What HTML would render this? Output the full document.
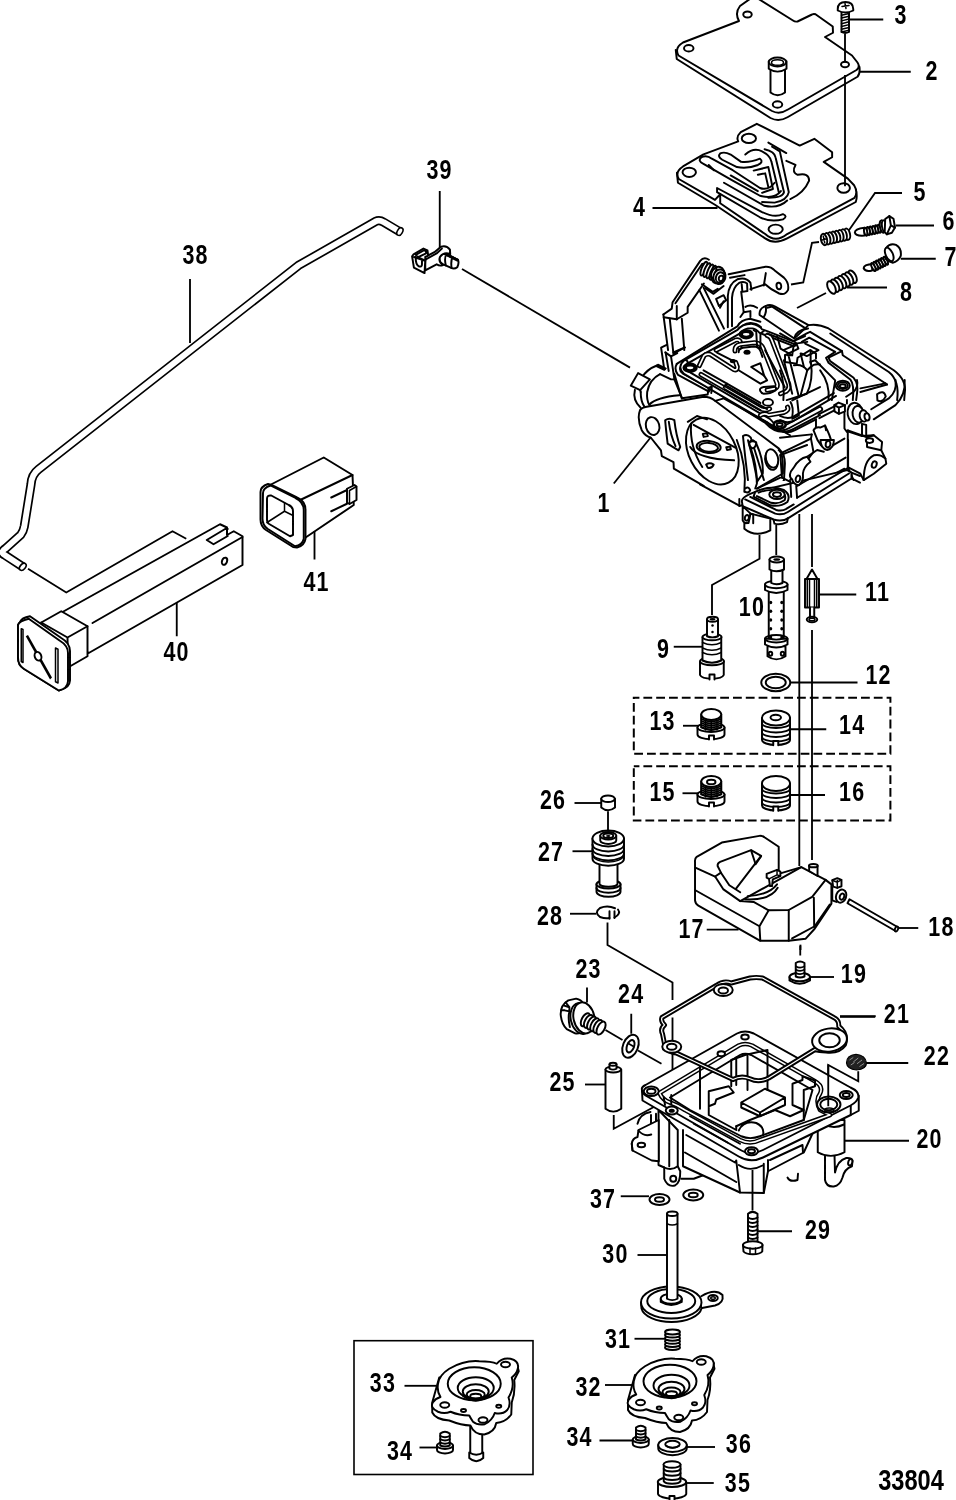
<!DOCTYPE html>
<html><head><meta charset="utf-8"><title>33804</title>
<style>
html,body{margin:0;padding:0;background:#fff;}
body{width:956px;height:1500px;overflow:hidden;font-family:"Liberation Sans",sans-serif;}
svg{display:block}
.o{fill:none;stroke:#000;stroke-width:1.95;stroke-linejoin:round;stroke-linecap:round;vector-effect:non-scaling-stroke}
.w{fill:#fff;stroke:#000;stroke-width:1.95;stroke-linejoin:round;stroke-linecap:round;vector-effect:non-scaling-stroke}
.t{fill:none;stroke:#000;stroke-width:1.5;stroke-linejoin:round;stroke-linecap:round;vector-effect:non-scaling-stroke}
.tw{fill:#fff;stroke:#000;stroke-width:1.5;stroke-linejoin:round;stroke-linecap:round;vector-effect:non-scaling-stroke}
.l{fill:none;stroke:#000;stroke-width:1.85;stroke-linecap:butt;vector-effect:non-scaling-stroke}
.k{fill:#000;stroke:none}
.f{fill:#fff;stroke:none}
.d{fill:none;stroke:#000;stroke-width:2;stroke-dasharray:8.8 4;stroke-dashoffset:3.2;vector-effect:non-scaling-stroke}
text{font-family:"Liberation Sans",sans-serif;font-weight:bold;font-size:27.5px;fill:#000;text-anchor:middle}
</style></head><body>
<svg width="956" height="1500" viewBox="0 0 956 1500" style="filter:grayscale(1)">
<rect x="0" y="0" width="956" height="1500" fill="#fff"/>
<!-- 10_top.svg -->
<g transform="translate(600,0) scale(0.25)">
<path class="w" d="M303,200 L307,236 L682,472 Q715,489 750,469 L1030,307 Q1041,296 1038,268 L1030,260 L740,430 L320,215 Z"/>
<path class="w" d="M608,-10 L560,24 Q538,52 556,84 L332,170 Q296,192 314,222 L688,444 Q718,460 752,438 L1026,280 Q1042,268 1030,250 L1008,222 L900,148 L932,131 L931,106 L862,57 Q855,54 848,58 L790,86 Q780,88 772,82 L625,-10 Z"/>
<ellipse class="w" cx="590" cy="58" rx="17" ry="12"/>
<ellipse class="w" cx="355" cy="193" rx="19" ry="13"/>
<ellipse class="w" cx="710" cy="418" rx="19" ry="13"/>
<ellipse class="w" cx="980" cy="258" rx="16" ry="11"/>
<path class="w" d="M682,280 L682,370 Q710,392 740,370 L740,280"/>
<path class="w" d="M675,245 L675,275 Q710,298 746,275 L746,245"/>
<ellipse class="w" cx="710" cy="248" rx="35" ry="18"/>
<ellipse class="t" cx="710" cy="250" rx="24" ry="11"/>
</g>
<g transform="translate(670,120) scale(0.209205)">
<path class="w" d="M33,252 L38,300 L215,405 L455,566 Q500,598 560,566 L888,392 Q896,370 890,340 L560,540 L60,260 Z"/>
<path class="w" d="M415,18 L338,58 Q315,80 326,102 L160,164 L62,222 Q22,248 42,282 L215,382 L240,355 L240,398 L455,545 Q505,590 560,545 L882,372 Q900,345 880,312 L850,280 L735,200 L775,178 L775,154 L690,90 L620,122 Z"/>
<ellipse class="w" cx="377" cy="88" rx="34" ry="22"/>
<ellipse class="w" cx="92" cy="250" rx="32" ry="22"/>
<ellipse class="w" cx="505" cy="522" rx="34" ry="22"/>
<ellipse class="w" cx="830" cy="325" rx="30" ry="23"/>
<path class="o" d="M470,108 L556,158"/>
<path class="o" d="M488,128 L525,150 L568,345 Q560,385 500,395 L440,392"/>
<path class="o" d="M452,140 Q500,150 505,180 L545,345 Q540,372 470,372"/>
<path class="o" d="M360,165 Q400,130 440,150 Q480,170 485,200 L520,345"/>
<path class="o" d="M240,160 Q260,150 290,165 L340,200 Q380,205 430,185 Q450,200 420,215 Q370,235 320,225 L250,190 Q225,175 240,160 Z"/>
<path class="o" d="M400,242 L470,225 L492,330 L440,348"/>
<path class="o" d="M420,262 L455,255 L470,320"/>
<path class="o" d="M150,178 Q175,165 200,185 L300,240 L430,325 Q470,340 500,300"/>
<path class="o" d="M150,178 Q130,195 160,210 L300,290 L430,362 Q500,380 530,340"/>
<path class="o" d="M185,215 L210,240"/>
<path class="o" d="M258,300 L450,410 Q520,425 560,385"/>
<path class="o" d="M225,325 L440,440 Q500,470 540,450 Q565,460 540,475 Q480,490 430,465 L225,345 Z"/>
<path class="o" d="M556,195 L600,215 Q580,250 610,262 Q665,250 665,290 Q640,350 575,378"/>
<path class="o" d="M290,265 L420,340"/>
</g>
<polyline class="l" points="652.5,208 717.5,208"/>
<g transform="translate(717,0) scale(0.25)">
<polyline class="l" points="512,135 512,250"/>
<polyline class="l" points="512,300 512,745"/>
<path class="w" d="M498,45 L498,128 Q512,136 528,128 L528,45 Z"/>
<path class="t" d="M498.0,61.2 L528.0,54.0 M498.0,72.3 L528.0,65.1 M498.0,83.5 L528.0,76.3 M498.0,94.6 L528.0,87.4 M498.0,105.7 L528.0,98.5 M498.0,116.9 L528.0,109.7 M498.0,128.0 L528.0,120.8 "/>
<path class="w" d="M483,36 Q483,8 514,8 Q545,8 545,36 L545,42 Q514,58 483,42 Z"/>
<path class="t" d="M500,26 L528,22 M512,14 L516,34"/>
<polyline class="l" points="530,78 665,78"/>
<polyline class="l" points="572,287 775,287"/>
<polyline class="l" points="740,772 632,772 527,922"/>
<polyline class="l" points="715,902 868,902"/>
<polyline class="l" points="735,1035 875,1035"/>
<polyline class="l" points="520,1150 680,1150"/>
<polyline class="l" points="408,968 380,971 345,1130 296,1138"/>
<polyline class="l" points="436,1172 320,1232"/>
<ellipse class="w" cx="520" cy="937" rx="12" ry="23" transform="rotate(-12.8581 520 937)"/>
<ellipse class="w" cx="506.857" cy="940" rx="12" ry="23" transform="rotate(-12.8581 506.857 940)"/>
<ellipse class="w" cx="493.714" cy="943" rx="12" ry="23" transform="rotate(-12.8581 493.714 943)"/>
<ellipse class="w" cx="480.571" cy="946" rx="12" ry="23" transform="rotate(-12.8581 480.571 946)"/>
<ellipse class="w" cx="467.429" cy="949" rx="12" ry="23" transform="rotate(-12.8581 467.429 949)"/>
<ellipse class="w" cx="454.286" cy="952" rx="12" ry="23" transform="rotate(-12.8581 454.286 952)"/>
<ellipse class="w" cx="441.143" cy="955" rx="12" ry="23" transform="rotate(-12.8581 441.143 955)"/>
<ellipse class="w" cx="428" cy="958" rx="12" ry="23" transform="rotate(-12.8581 428 958)"/>
<path class="t" d="M420.981,959.602 L435.019,956.398 M424.929,944.546 L431.071,971.454"/>
<ellipse class="w" cx="542" cy="1107" rx="14" ry="27" transform="rotate(-27.1081 542 1107)"/>
<ellipse class="w" cx="528" cy="1114.17" rx="14" ry="27" transform="rotate(-27.1081 528 1114.17)"/>
<ellipse class="w" cx="514" cy="1121.33" rx="14" ry="27" transform="rotate(-27.1081 514 1121.33)"/>
<ellipse class="w" cx="500" cy="1128.5" rx="14" ry="27" transform="rotate(-27.1081 500 1128.5)"/>
<ellipse class="w" cx="486" cy="1135.67" rx="14" ry="27" transform="rotate(-27.1081 486 1135.67)"/>
<ellipse class="w" cx="472" cy="1142.83" rx="14" ry="27" transform="rotate(-27.1081 472 1142.83)"/>
<ellipse class="w" cx="458" cy="1150" rx="14" ry="27" transform="rotate(-27.1081 458 1150)"/>
</g>
<g transform="translate(836,160) scale(0.125523)">
<path class="w" d="M228,540 Q150,548 150,578 Q156,608 228,602 Z"/>
<ellipse class="w" cx="345" cy="548" rx="12" ry="33" transform="rotate(-11.9151 345 548)"/>
<ellipse class="w" cx="323.2" cy="552.6" rx="12" ry="33" transform="rotate(-11.9151 323.2 552.6)"/>
<ellipse class="w" cx="301.4" cy="557.2" rx="12" ry="33" transform="rotate(-11.9151 301.4 557.2)"/>
<ellipse class="w" cx="279.6" cy="561.8" rx="12" ry="33" transform="rotate(-11.9151 279.6 561.8)"/>
<ellipse class="w" cx="257.8" cy="566.4" rx="12" ry="33" transform="rotate(-11.9151 257.8 566.4)"/>
<ellipse class="w" cx="236" cy="571" rx="12" ry="33" transform="rotate(-11.9151 236 571)"/>
<ellipse class="w" cx="370" cy="530" rx="20" ry="50" transform="rotate(-10 370 530)"/>
<ellipse class="w" cx="386" cy="527" rx="20" ry="47" transform="rotate(-10 386 527)"/>
<path class="w" d="M392,470 L425,447 L458,468 L470,538 L445,580 L405,592 L388,575 Z"/>
<path class="o" d="M425,447 L437,520 L470,538 M437,520 L405,592"/>
<path class="w" d="M295,828 Q222,832 220,862 Q232,894 288,880 Z"/>
<ellipse class="w" cx="396" cy="803" rx="12" ry="35" transform="rotate(-27.0309 396 803)"/>
<ellipse class="w" cx="376.4" cy="813" rx="12" ry="35" transform="rotate(-27.0309 376.4 813)"/>
<ellipse class="w" cx="356.8" cy="823" rx="12" ry="35" transform="rotate(-27.0309 356.8 823)"/>
<ellipse class="w" cx="337.2" cy="833" rx="12" ry="35" transform="rotate(-27.0309 337.2 833)"/>
<ellipse class="w" cx="317.6" cy="843" rx="12" ry="35" transform="rotate(-27.0309 317.6 843)"/>
<ellipse class="w" cx="298" cy="853" rx="12" ry="35" transform="rotate(-27.0309 298 853)"/>
<path class="w" d="M400,700 Q430,660 478,676 Q524,702 516,764 Q494,812 452,818 Q420,815 398,790 Z"/>
<ellipse class="w" cx="424" cy="752" rx="28" ry="58" transform="rotate(-25 424 752)"/>
</g>
<g transform="translate(717,0) scale(0.25)">

</g>
<!-- 20_carb.svg -->
<g transform="translate(660,300) scale(0.167364)">
<path class="o" d="M100,382 L462,158 Q482,118 538,112 L600,130"/>
<path class="o" d="M790,775 Q700,812 630,735 L300,530 L292,548 L108,448 Q82,415 100,382"/>
<path class="o" d="M790,775 L956,688"/>
<path class="o" d="M125,396 L470,182 Q490,142 540,137 Q580,140 604,162"/>
<path class="o" d="M125,396 Q110,418 135,438 L640,714 Q700,782 775,750 L956,655"/>
<path class="o" d="M85,440 L130,588"/>
<path d="M152,372 L472,188 Q497,155 545,155 Q585,160 602,186 L640,200 L800,262" fill="none" stroke="#000" stroke-width="6.2" stroke-linejoin="round" stroke-linecap="round" vector-effect="non-scaling-stroke"/><path d="M152,372 L472,188 Q497,155 545,155 Q585,160 602,186 L640,200 L800,262" fill="none" stroke="#fff" stroke-width="2.4" stroke-linejoin="round" stroke-linecap="round" vector-effect="non-scaling-stroke"/>
<path d="M152,372 Q118,400 150,430 L650,722 Q705,790 770,752 L956,652" fill="none" stroke="#000" stroke-width="6.2" stroke-linejoin="round" stroke-linecap="round" vector-effect="non-scaling-stroke"/><path d="M152,372 Q118,400 150,430 L650,722 Q705,790 770,752 L956,652" fill="none" stroke="#fff" stroke-width="2.4" stroke-linejoin="round" stroke-linecap="round" vector-effect="non-scaling-stroke"/>
<ellipse class="w" cx="180" cy="405" rx="40" ry="25"/>
<ellipse class="w" cx="180" cy="405" rx="25" ry="14"/>
<ellipse class="w" cx="515" cy="205" rx="40" ry="25"/>
<ellipse class="w" cx="515" cy="205" rx="25" ry="14"/>
<ellipse cx="715" cy="745" rx="36" ry="23" fill="#fff" stroke="#000" stroke-width="2.6" vector-effect="non-scaling-stroke"/>
<ellipse class="w" cx="715" cy="745" rx="18" ry="10"/>
<ellipse cx="180" cy="405" rx="33" ry="20" fill="none" stroke="#000" stroke-width="2.2" vector-effect="non-scaling-stroke"/>
<ellipse cx="515" cy="205" rx="33" ry="20" fill="none" stroke="#000" stroke-width="2.2" vector-effect="non-scaling-stroke"/>
<path d="M235,392 L262,335 Q275,318 300,325 L440,415 Q462,425 462,400 L452,372" fill="none" stroke="#000" stroke-width="5" stroke-linejoin="round" stroke-linecap="round" vector-effect="non-scaling-stroke"/><path d="M235,392 L262,335 Q275,318 300,325 L440,415 Q462,425 462,400 L452,372" fill="none" stroke="#fff" stroke-width="1.7" stroke-linejoin="round" stroke-linecap="round" vector-effect="non-scaling-stroke"/>
<path d="M335,300 L450,240 Q478,232 482,258 L475,285" fill="none" stroke="#000" stroke-width="5" stroke-linejoin="round" stroke-linecap="round" vector-effect="non-scaling-stroke"/><path d="M335,300 L450,240 Q478,232 482,258 L475,285" fill="none" stroke="#fff" stroke-width="1.7" stroke-linejoin="round" stroke-linecap="round" vector-effect="non-scaling-stroke"/>
<path class="o" d="M340,314 L425,358"/>
<path d="M448,305 Q445,272 480,265 L565,255 Q605,258 618,292 L700,500 Q705,522 685,530 L640,538" fill="none" stroke="#000" stroke-width="5" stroke-linejoin="round" stroke-linecap="round" vector-effect="non-scaling-stroke"/><path d="M448,305 Q445,272 480,265 L565,255 Q605,258 618,292 L700,500 Q705,522 685,530 L640,538" fill="none" stroke="#fff" stroke-width="1.7" stroke-linejoin="round" stroke-linecap="round" vector-effect="non-scaling-stroke"/>
<path class="o" d="M470,312 Q470,290 495,285 L560,278 Q590,280 600,305 L612,340"/>
<ellipse class="k" cx="520" cy="312" rx="21" ry="15"/>
<ellipse class="k" cx="435" cy="365" rx="18" ry="13"/>
<ellipse class="w" cx="520" cy="310" rx="8" ry="5"/>
<ellipse class="w" cx="435" cy="363" rx="7" ry="4"/>
<path class="o" d="M560,180 L575,190 L580,280 L600,290 L600,200 L620,185"/>
<path d="M640,212 Q660,215 668,240 L770,505 Q775,530 755,545 L720,560" fill="none" stroke="#000" stroke-width="5" stroke-linejoin="round" stroke-linecap="round" vector-effect="non-scaling-stroke"/><path d="M640,212 Q660,215 668,240 L770,505 Q775,530 755,545 L720,560" fill="none" stroke="#fff" stroke-width="1.7" stroke-linejoin="round" stroke-linecap="round" vector-effect="non-scaling-stroke"/>
<path class="o" d="M628,300 L745,520"/>
<path class="o" d="M545,400 L600,378 L622,452 Z"/>
<path class="o" d="M470,420 L600,500 L640,480 L622,452"/>
<path class="o" d="M600,545 Q590,525 620,520 L680,515 Q700,520 690,540 Q660,560 620,560 Q605,558 600,545 Z"/>
<ellipse class="w" cx="645" cy="612" rx="30" ry="20"/>
<path d="M600,690 Q620,672 650,688 L740,672 Q772,660 762,640" fill="none" stroke="#000" stroke-width="5" stroke-linejoin="round" stroke-linecap="round" vector-effect="non-scaling-stroke"/><path d="M600,690 Q620,672 650,688 L740,672 Q772,660 762,640" fill="none" stroke="#fff" stroke-width="1.7" stroke-linejoin="round" stroke-linecap="round" vector-effect="non-scaling-stroke"/>
<path d="M245,445 L590,645 Q625,665 655,650" fill="none" stroke="#000" stroke-width="5" stroke-linejoin="round" stroke-linecap="round" vector-effect="non-scaling-stroke"/><path d="M245,445 L590,645 Q625,665 655,650" fill="none" stroke="#fff" stroke-width="1.7" stroke-linejoin="round" stroke-linecap="round" vector-effect="non-scaling-stroke"/>
<path class="o" d="M260,420 L400,500 L380,522"/>
<path class="o" d="M400,500 L600,615"/>
<path class="o" d="M390,508 L640,652"/>
<path class="o" d="M385,532 L600,658"/>
<path class="o" d="M640,200 L800,262 L790,330 L760,330"/>
<path class="o" d="M800,262 L880,250"/>
<path class="o" d="M700,215 L720,290 L790,330"/>
<path class="o" d="M770,340 L830,580 L790,600"/>
<path class="o" d="M800,390 Q850,380 880,420 L900,400 Q920,380 956,385"/>
<path class="o" d="M830,580 L956,520"/>
<path class="o" d="M820,600 L830,690 L790,710"/>
<path class="o" d="M880,420 L840,570"/>
<path class="o" d="M840,320 L860,400"/>
<path class="o" d="M900,300 L900,380"/>
<path class="o" d="M740,360 L790,560"/>
<path class="o" d="M780,610 Q800,640 790,700"/>
</g>
<g transform="translate(650,250) scale(0.167364)">
<path class="w" d="M655,388 Q650,350 690,335 Q720,322 748,338 L947,449 L862,529 Z"/>
<path class="o" d="M700,345 L730,338 L922,464"/>
<path class="o" d="M690,335 Q700,370 680,400"/>
<path class="o" d="M80,385 L130,350 L135,312 L300,65 Q322,38 352,58"/>
<path class="o" d="M152,318 L312,82"/>
<path class="o" d="M80,385 L82,402 L108,598"/>
<path class="o" d="M82,402 L160,414"/>
<path class="o" d="M118,410 L139,612"/>
<path class="o" d="M190,410 L205,598"/>
<path class="o" d="M160,414 L225,375 L225,340 L322,200"/>
<path class="o" d="M160,414 L160,335"/>
<path class="o" d="M295,240 L412,482"/>
<path class="o" d="M320,225 L442,470"/>
<path class="o" d="M310,205 L375,250 L405,232"/>
<path class="o" d="M330,228 L380,262 L440,215"/>
<ellipse class="w" cx="322" cy="112" rx="14" ry="44" transform="rotate(22 322 112)"/>
<ellipse class="w" cx="340" cy="120" rx="14" ry="44" transform="rotate(22 340 120)"/>
<ellipse class="w" cx="358" cy="128" rx="14" ry="44" transform="rotate(22 358 128)"/>
<ellipse class="w" cx="376" cy="136" rx="14" ry="44" transform="rotate(22 376 136)"/>
<ellipse class="w" cx="415" cy="160" rx="36" ry="44" transform="rotate(15 415 160)"/>
<ellipse class="w" cx="420" cy="165" rx="26" ry="32" transform="rotate(15 420 165)"/>
<ellipse class="w" cx="425" cy="170" rx="14" ry="17" transform="rotate(15 425 170)"/>
<ellipse class="o" cx="405" cy="150" rx="40" ry="50" transform="rotate(15 405 150)"/>
<path class="w" d="M395,292 L440,270 L455,300 L412,335 Z"/>
<path class="o" d="M440,306 L418,345"/>
<path class="o" d="M470,145 L690,100 Q722,98 745,122 L800,165 Q832,195 825,238 Q808,272 772,260 Q722,238 688,205 L600,234"/>
<path class="o" d="M478,166 L565,150"/>
<path class="o" d="M692,138 L680,212"/>
<ellipse class="w" cx="770" cy="215" rx="14" ry="20" transform="rotate(-10 770 215)"/>
<path class="o" d="M465,462 L465,275 Q470,200 522,175 Q572,158 600,195 L606,238"/>
<path class="o" d="M490,455 L490,285 Q495,222 532,197 Q560,185 580,200 L582,245 L552,250 L548,205"/>
<path class="o" d="M545,250 L560,372 L600,365 L600,400"/>
<path class="o" d="M560,372 L540,400"/>
<path class="o" d="M570,340 Q600,320 640,345"/>
</g>
<g transform="translate(780,300) scale(0.167364)">
<path class="o" d="M170,150 Q230,140 290,170 L680,420 Q760,480 745,560 L742,598"/>
<path class="o" d="M85,228 Q95,180 168,170"/>
<path class="o" d="M95,235 L160,200 L180,190 L370,305 L290,345 L300,365 L440,465 Q470,500 460,560 L455,598"/>
<path class="o" d="M130,250 L175,225 L330,310 L275,345 L290,375 L420,475 Q445,505 435,598"/>
<path class="o" d="M370,305 L375,330 L640,505"/>
<path class="o" d="M300,200 L650,430 Q715,480 700,598"/>
<path class="o" d="M640,505 L480,550"/>
<path class="o" d="M0,200 L80,245 L150,215"/>
<path class="o" d="M20,300 L100,265 L110,290 L30,330"/>
<path class="o" d="M30,330 L30,370 L100,380 L105,345 L180,300 L215,320 L215,350"/>
<path class="o" d="M180,370 L210,360 L330,480 L310,598"/>
<path class="o" d="M185,375 Q200,480 160,560 L40,598"/>
<path class="o" d="M0,420 Q30,500 20,598"/>
<path class="o" d="M240,420 Q300,500 290,598"/>
<path class="o" d="M150,260 L230,300 L160,335 L130,320"/>
<ellipse class="w" cx="375" cy="512" rx="42" ry="30"/>
<ellipse class="o" cx="375" cy="512" rx="30" ry="20"/>
<ellipse class="w" cx="375" cy="514" rx="18" ry="11"/>
</g>
<g transform="translate(780,380) scale(0.167364)">
<path class="o" d="M745,0 Q752,90 690,150 L560,235"/>
<path class="o" d="M480,50 L630,20"/>
<path class="o" d="M690,0 Q700,70 650,110 L545,175"/>
<path class="w" d="M580,85 Q620,55 632,98 Q612,138 582,122 Z"/>
<path class="o" d="M460,0 Q470,40 440,70 L395,100"/>
<path class="f" d="M400,305 L490,335 L560,330 L610,370 L605,420 L630,470 L635,500 L560,560 L500,598 L405,598 Z"/>
<path class="o" d="M400,305 L490,335 L560,330 L610,370 L605,420 L630,470 L635,500 L560,560 L500,598"/>
<path class="o" d="M560,330 L520,342 L410,302"/>
<path class="o" d="M520,342 L520,400 L605,420"/>
<ellipse class="w" cx="535" cy="362" rx="22" ry="14"/>
<path class="o" d="M500,598 Q500,480 560,450 Q600,440 630,470"/>
<ellipse class="w" cx="563" cy="505" rx="14" ry="20" transform="rotate(20 563 505)"/>
<path class="o" d="M405,300 L405,520 L480,560 L500,598"/>
<path class="o" d="M405,520 L440,598"/>
<ellipse class="w" cx="450" cy="200" rx="46" ry="64" transform="rotate(-10 450 200)"/>
<ellipse class="w" cx="468" cy="205" rx="34" ry="50" transform="rotate(-10 468 205)"/>
<ellipse class="w" cx="500" cy="215" rx="24" ry="34" transform="rotate(-10 500 215)"/>
<ellipse class="w" cx="520" cy="220" rx="15" ry="22" transform="rotate(-10 520 220)"/>
<path class="w" d="M490,262 L490,330 L515,336 L515,268 Z"/>
<path class="o" d="M385,185 L385,290 L400,310"/>
<path class="o" d="M400,120 L400,140"/>
<path class="o" d="M0,240 Q40,262 80,245 L335,95"/>
<path class="o" d="M0,215 Q40,235 75,222 L322,78"/>
<path class="o" d="M0,300 Q40,325 90,300 L215,235"/>
<path class="w" d="M325,150 L350,135 L388,150 L388,188 L352,202 L325,188 Z"/>
<path class="o" d="M325,150 L352,165 L388,150 M352,165 L352,202"/>
<path class="o" d="M230,205 L325,158"/>
<path class="o" d="M235,228 L325,182"/>
<path class="o" d="M215,235 L215,290"/>
<path class="w" d="M200,300 Q215,278 240,284 L268,272 Q300,330 310,380 Q300,420 270,410 Q240,390 225,360 Z"/>
<ellipse class="w" cx="288" cy="380" rx="13" ry="19" transform="rotate(10 288 380)"/>
<path class="o" d="M270,272 L275,300"/>
<path class="o" d="M0,345 L190,325"/>
<path class="o" d="M0,440 L185,350 L190,325"/>
<path class="o" d="M20,440 L20,598"/>
<path class="o" d="M170,470 L60,598"/>
<path class="o" d="M185,350 L200,430 L170,470"/>
<path class="o" d="M300,400 L385,350"/>
<path class="o" d="M330,560 L385,530 L385,598"/>
</g>
<g transform="translate(625,325) scale(0.104603)">
<path class="o" d="M398,190 L345,216 L372,400"/>
<path class="o" d="M462,262 L572,215"/>
<path class="o" d="M572,215 L462,275"/>
<path class="o" d="M385,262 L440,300 L500,268"/>
<path class="o" d="M440,300 L472,520"/>
<path class="o" d="M388,262 L418,440"/>
<path class="o" d="M310,385 Q205,425 160,505"/>
<path class="o" d="M95,620 Q70,720 150,792"/>
<path class="o" d="M150,640 Q150,730 185,780"/>
<path class="w" d="M125,460 L55,580 L145,622 L238,520 Z"/>
<path class="o" d="M145,622 L150,640"/>
<path class="o" d="M335,470 Q235,520 212,640 Q205,720 232,762"/>
<path class="o" d="M232,762 Q300,690 520,672"/>
<path class="o" d="M335,470 L440,520 L472,520 L545,700"/>
<path class="t" d="M305,385 L385,425 M315,378 L392,415 M300,395 L375,432"/>
<path class="o" d="M545,700 L790,665 L800,600 L830,590 L825,650"/>
</g>
<g transform="translate(630,380) scale(0.167364)">
<path class="f" d="M60,180 Q70,165 100,160 L440,100 Q480,100 510,125 L890,410 Q930,450 925,510 L920,598 L380,598 L262,530 L260,490 L190,455 L185,420 L125,345 Q90,335 70,300 Q40,230 60,180 Z"/>
<path class="o" d="M920,598 L925,510 Q930,450 890,410 L510,125 Q480,100 440,100 L100,160 Q70,165 60,180 Q40,230 70,300 Q90,335 125,345 L185,420 L190,455 L260,490 L262,530 L440,633"/>
<ellipse class="w" cx="135" cy="275" rx="40" ry="54" transform="rotate(-15 135 275)"/>
<path class="w" d="M210,240 Q235,222 265,240 Q275,330 300,400 L290,420 Q255,400 225,380 Q215,300 210,240 Z"/>
<path class="o" d="M232,250 Q242,330 272,395"/>
<ellipse class="w" cx="492" cy="425" rx="140" ry="212" transform="rotate(-27 492 425)"/>
<path class="o" d="M365,262 Q355,400 432,520"/>
<path class="o" d="M380,268 L632,405"/>
<path class="o" d="M360,400 Q400,470 622,480"/>
<ellipse class="w" cx="470" cy="400" rx="72" ry="36" transform="rotate(5 470 400)"/>
<ellipse class="o" cx="470" cy="402" rx="56" ry="26" transform="rotate(5 470 402)"/>
<path class="o" d="M435,322 L460,318 L465,335 L440,340 Z"/>
<path class="o" d="M575,402 L598,398 L603,414 L580,418 Z"/>
<path class="o" d="M455,505 Q475,490 500,505 Q490,530 465,525 Z"/>
<path class="o" d="M345,250 L400,215 L460,235"/>
<path class="o" d="M800,598 Q765,480 722,345 Q700,318 675,335 Q690,480 705,598"/>
<path class="o" d="M705,360 Q740,480 760,598"/>
<ellipse class="w" cx="735" cy="385" rx="22" ry="16" transform="rotate(-30 735 385)"/>
<ellipse class="w" cx="728" cy="372" rx="14" ry="10" transform="rotate(-30 728 372)"/>
<ellipse class="w" cx="845" cy="482" rx="36" ry="56" transform="rotate(-15 845 482)"/>
<path class="o" d="M510,125 L560,110 L956,330"/>
</g>
<g transform="translate(700,440) scale(0.167364)">
<path class="o" d="M885,0 L885,200"/>
<path class="o" d="M905,195 L956,215"/>
<path class="o" d="M905,230 L956,255"/>
<path class="o" d="M905,195 L905,230"/>
<path class="w" d="M250,365 Q250,345 300,322 L330,310 L880,180 L905,195 L905,230 L530,465 Q490,492 440,475 L255,395 Z"/>
<path class="o" d="M270,355 L450,440 Q490,452 525,430 L890,200"/>
<path class="o" d="M300,340 L455,418 Q490,428 515,412 L560,385"/>
<path class="w" d="M330,310 Q420,268 500,298 Q545,328 522,370 Q480,402 420,390 L320,338 Z"/>
<path class="o" d="M350,315 Q420,285 485,308 Q520,330 505,360 Q470,385 425,375 L340,335"/>
<ellipse class="w" cx="460" cy="325" rx="46" ry="28"/>
<ellipse class="w" cx="460" cy="326" rx="24" ry="14"/>
<path class="w" d="M255,395 L255,480 Q265,502 290,496 L302,440 Z"/>
<ellipse class="w" cx="280" cy="465" rx="12" ry="17" transform="rotate(10 280 465)"/>
<path class="w" d="M265,497 L265,530 Q330,585 420,540 L420,470 L302,440 L290,496 Z"/>
<path class="o" d="M302,440 L318,445 L318,498"/>
<path class="o" d="M440,480 L445,500 Q480,510 520,490 L525,468"/>
<path class="o" d="M235,352 L235,395 L250,390"/>
<path class="o" d="M0,265 L235,392"/>
<path class="o" d="M490,225 L540,250 L545,340"/>
<path class="o" d="M575,275 L580,345"/>
<path class="o" d="M480,225 L340,290"/>
<path class="o" d="M580,345 L880,170"/>
<path class="o" d="M580,275 L870,105"/>
<path class="w" d="M560,165 Q590,110 640,100 L660,130 Q620,160 615,200 Q620,250 590,270 Q560,270 550,235 Q520,210 560,165 Z"/>
<ellipse class="w" cx="585" cy="232" rx="13" ry="20" transform="rotate(15 585 232)"/>
<path class="o" d="M480,90 L640,30"/>
<path class="o" d="M640,100 L700,60 L740,70"/>
<path class="w" d="M720,0 Q720,50 760,60 Q800,50 800,0 Z"/>
<ellipse class="w" cx="765" cy="25" rx="14" ry="20" transform="rotate(10 765 25)"/>
<path class="o" d="M480,90 L490,225"/>
<path class="o" d="M220,0 Q280,150 265,310"/>
<path class="o" d="M300,40 Q340,150 340,260 L330,290"/>
<path class="o" d="M340,30 Q380,120 375,200 L340,250"/>
<ellipse class="w" cx="430" cy="110" rx="36" ry="56" transform="rotate(-15 430 110)"/>
<path class="o" d="M470,60 Q500,80 495,200 L340,290"/>
<path class="o" d="M270,290 Q290,275 300,300 Q290,320 270,310"/>
<path class="w" d="M295,15 Q315,0 335,15 Q335,45 315,50 Q295,45 295,15 Z"/>
</g>
<polyline class="l" points="613.8,483.5 651,437"/>
<!-- 30_left.svg -->
<g transform="translate(0.5,0.6)">
<path d="M399,231 L383,221.5 Q379,219 375,220.8 L297.75,265 L38,468.75 Q31,474 30.5,484 L23.75,526 Q22.8,531 20.2,534.2 L5.2,547.8 Q-1,552 4.5,554.6 L22,566" fill="none" stroke="#000" stroke-width="9.2" stroke-linejoin="round" stroke-linecap="butt"/>
<path d="M399,231 L383,221.5 Q379,219 375,220.8 L297.75,265 L38,468.75 Q31,474 30.5,484 L23.75,526 Q22.8,531 20.2,534.2 L5.2,547.8 Q-1,552 4.5,554.6 L22,566" fill="none" stroke="#fff" stroke-width="5.8" stroke-linejoin="round" stroke-linecap="butt"/>
<ellipse cx="399.4" cy="231" rx="2.6" ry="4.1" transform="rotate(30 399.4 231)" fill="#fff" stroke="#000" stroke-width="1.6"/>
<ellipse cx="22.3" cy="566.2" rx="2.6" ry="4.1" transform="rotate(40 22.3 566.2)" fill="#fff" stroke="#000" stroke-width="1.6"/>
</g>
<polyline class="l" points="190,279 190,343"/>
<polyline class="l" points="439.75,191 439.75,248"/>
<polyline class="l" points="462,269 630,367.6"/>
<g transform="translate(0,375) scale(0.25)">
<polyline class="l" points="112,775 265,870 690,625 745,655"/>
<path class="w" d="M250,948 L880,597 L908,610 L908,640 L935,625 L970,645 L970,760 L355,1112 L270,1050 Z"/>
<path class="o" d="M370,992 L970,648"/>
<path class="o" d="M911,616 L902,615 L827,660 L854,677 L911,644"/>
<ellipse class="w" cx="898" cy="745" rx="10" ry="15" transform="rotate(20 898 745)"/>
<polyline class="l" points="707,912 707,1045"/>
<path class="w" d="M165,990 L245,945 L350,1005 L350,1125 L272,1170 L165,1100 Z"/>
<path class="o" d="M270,1050 L350,1005 M270,1050 L272,1170 M165,990 L270,1050"/>
<path class="w" d="M82,985 Q86,972 120,965 L245,1052 Q280,1072 280,1104 L280,1222 Q278,1250 245,1258 L235,1262 L95,1175 Q72,1160 72,1130 L72,1000 Z"/>
<path class="w" d="M72,1000 Q75,985 115,975 L238,1062 Q272,1082 272,1112 L272,1225 Q270,1255 235,1262 L95,1175 Q72,1160 72,1130 Z"/>
<path class="t" d="M85,1015 L92,1018 L92,1150 L85,1146 Z M222,1092 L232,1097 L232,1232 L222,1227 Z"/>
<path class="k" d="M103,1045 L112,1040 L208,1210 L200,1218 Z"/>
<ellipse class="w" cx="152" cy="1125" rx="13" ry="18" transform="rotate(-20 152 1125)"/>
</g>
<g transform="translate(140,375) scale(0.25)">
<path class="w" d="M520,440 L735,330 L850,400 L855,520 L655,655 L655,540 Q655,505 620,490 Z"/>
<path class="o" d="M645,498 L850,400"/>
<path class="w" d="M828,455 L858,440 L866,446 L866,500 L838,516 L828,510 Z"/>
<path class="t" d="M838,462 L838,516 M838,462 L866,446"/>
<path class="o" d="M765,490 L828,460 M765,545 L828,515"/>
<path class="w" d="M482,468 Q482,446 512,436 L526,440 L628,490 Q662,505 662,540 L662,655 Q658,682 628,690 L612,688 L504,620 Q482,605 482,578 Z"/>
<path class="w" d="M492,472 Q492,452 522,442 L622,492 Q655,507 655,542 L655,655 Q650,680 620,685 L510,615 Q490,600 490,575 Z"/>
<path class="w" d="M508,495 Q508,480 525,482 L595,520 Q612,528 612,545 L612,640 L600,645 L515,595 Q508,590 508,580 Z"/>
<path class="t" d="M508,590 L578,545 L612,562 M578,545 L578,512"/>
<polyline class="l" points="698,625 698,738"/>
</g>
<g transform="translate(400,235) scale(0.0732218)">
<path class="w" d="M560,250 Q600,228 640,258 L790,338 Q812,380 782,440 Q742,472 700,450 L590,400 Q528,370 540,300 Z"/>
<path class="o" d="M640,258 Q600,300 625,415 M720,300 Q690,350 705,452 M575,245 L790,338"/>
<path d="M590,248 L785,345" fill="none" stroke="#000" stroke-width="2.6" stroke-linecap="round" vector-effect="non-scaling-stroke"/>
<path class="w" d="M345,300 L470,235 L560,160 Q640,138 682,200 L686,262 Q600,225 545,300 Q520,370 590,408 Q545,432 500,400 L345,482 Z"/>
<path class="o" d="M352,332 L500,252 L572,186"/>
<path class="w" d="M165,290 L185,265 L320,185 L375,210 L385,280 L345,300 L345,350 L335,520 L190,445 Z"/>
<path class="o" d="M215,270 L335,205 L356,226 L356,250 L250,302 Z"/>
<path class="o" d="M215,300 Q210,400 260,430 Q300,440 300,400 L300,350 M345,350 L250,306 M190,300 L345,352"/>
</g>
<!-- 40_mid.svg -->
<polyline class="l" points="799.3,514 799.3,866"/>
<polyline class="l" points="812,514 812,567"/>
<polyline class="l" points="812,630 812,860"/>
<rect class="d" x="633.8" y="697.8" width="256.6" height="56"/>
<rect class="d" x="633.8" y="766.2" width="256.6" height="54.4"/>
<g transform="translate(640,530) scale(0.25)">
<polyline class="l" points="478,20 478,115 288,220 288,340"/>
<polyline class="l" points="545,-20 545,100"/>
<polyline class="l" points="135,467 250,467"/>
<polyline class="l" points="715,258 865,258"/>
<polyline class="l" points="600,610 870,610"/>
<polyline class="l" points="172,783 240,783"/>
<polyline class="l" points="600,797 745,797"/>
<polyline class="l" points="170,1053 240,1053"/>
<polyline class="l" points="600,1060 740,1060"/>
<path class="w" d="M240,528 L240,580 A48,17 0 0 0 335,580 L335,528 Z"/>
<ellipse class="w" cx="288" cy="525" rx="48" ry="16"/>
<rect x="278" y="578" width="20" height="24" fill="#fff"/>
<path class="o" d="M278,598 L278,578 L298,578 L298,598"/>
<path class="w" d="M250,430 L250,522 Q288,540 325,522 L325,430 Z"/>
<path class="t" d="M250,450 Q288,468 325,450 M250,472 Q288,490 325,472 M250,490 Q288,508 325,490"/>
<ellipse class="w" cx="288" cy="428" rx="38" ry="13"/>
<path class="w" d="M268,358 L268,425 Q290,434 312,425 L312,358 Z"/>
<ellipse class="w" cx="290" cy="357" rx="22" ry="10"/>
<ellipse class="k" cx="290" cy="357" rx="12" ry="5"/>
<ellipse class="k" cx="290" cy="382" rx="5" ry="5"/>
<ellipse class="k" cx="290" cy="408" rx="5" ry="5"/>
<path class="w" d="M510,465 L510,505 Q545,530 582,505 L582,465 Z"/>
<ellipse class="w" cx="522" cy="495" rx="7" ry="8"/>
<ellipse class="w" cx="570" cy="495" rx="7" ry="8"/>
<path class="w" d="M500,435 L500,458 Q545,482 590,458 L590,435 Z"/>
<path class="w" d="M515,245 L515,432 Q545,445 575,432 L575,245 Z"/>
<ellipse class="o" cx="545" cy="435" rx="45" ry="15"/>
<ellipse class="k" cx="523" cy="290" rx="6" ry="7"/>
<ellipse class="k" cx="567" cy="290" rx="6" ry="7"/>
<ellipse class="k" cx="523" cy="325" rx="6" ry="7"/>
<ellipse class="k" cx="567" cy="325" rx="6" ry="7"/>
<ellipse class="k" cx="523" cy="360" rx="6" ry="7"/>
<ellipse class="k" cx="567" cy="360" rx="6" ry="7"/>
<ellipse class="k" cx="523" cy="395" rx="6" ry="7"/>
<ellipse class="k" cx="567" cy="395" rx="6" ry="7"/>
<ellipse class="k" cx="523" cy="428" rx="6" ry="7"/>
<ellipse class="k" cx="567" cy="428" rx="6" ry="7"/>
<path class="w" d="M500,218 L500,240 Q545,264 590,240 L590,218 Z"/>
<ellipse class="w" cx="545" cy="218" rx="45" ry="15"/>
<path class="w" d="M525,160 L525,212 Q545,222 570,212 L570,160 Z"/>
<path class="w" d="M518,118 L518,158 Q545,172 576,158 L576,118 Z"/>
<ellipse class="w" cx="547" cy="118" rx="29" ry="12"/>
<ellipse class="k" cx="547" cy="118" rx="14" ry="5"/>
<path class="w" d="M688,158 L666,196 L710,196 Z"/>
<path class="w" d="M660,196 L660,310 L716,310 L716,196 Z"/>
<path class="t" d="M669,198 L669,308 M678,198 L678,308 M698,198 L698,308 M707,198 L707,308"/>
<path class="w" d="M680,310 L680,348 L697,348 L697,310"/>
<ellipse class="w" cx="688" cy="358" rx="21" ry="11"/>
<ellipse class="t" cx="688" cy="358" rx="12" ry="5"/>
<ellipse class="w" cx="543" cy="610" rx="58" ry="35"/>
<ellipse class="w" cx="543" cy="610" rx="40" ry="23"/>
<path class="w" d="M230,790 L230,818 A54,19 0 0 0 338,818 L338,790 Z"/>
<ellipse class="w" cx="284" cy="790" rx="54" ry="18"/>
<rect x="276" y="822" width="20" height="22" fill="#fff"/>
<path class="o" d="M276,838 L276,822 L296,822 L296,838"/>
<path class="w" d="M245,738 L245,790 Q285,810 325,790 L325,738 Z"/>
<path class="o" d="M245,748 Q285,768 325,748"/>
<path class="o" d="M245,756 Q285,776 325,756"/>
<path class="o" d="M245,764 Q285,784 325,764"/>
<path class="o" d="M245,772 Q285,792 325,772"/>
<path class="o" d="M245,780 Q285,800 325,780"/>
<path class="o" d="M245,788 Q285,808 325,788"/>
<path class="t" d="M262,762 L262,800 M285,766 L285,804 M308,762 L308,800"/>
<ellipse class="w" cx="285" cy="738" rx="40" ry="22"/>
<path class="w" d="M230,1058 L230,1086 A54,19 0 0 0 338,1086 L338,1058 Z"/>
<ellipse class="w" cx="284" cy="1058" rx="54" ry="18"/>
<rect x="276" y="1090" width="20" height="22" fill="#fff"/>
<path class="o" d="M276,1106 L276,1090 L296,1090 L296,1106"/>
<path class="w" d="M245,1006 L245,1058 Q285,1078 325,1058 L325,1006 Z"/>
<path class="o" d="M245,1016 Q285,1036 325,1016"/>
<path class="o" d="M245,1024 Q285,1044 325,1024"/>
<path class="o" d="M245,1032 Q285,1052 325,1032"/>
<path class="o" d="M245,1040 Q285,1060 325,1040"/>
<path class="o" d="M245,1048 Q285,1068 325,1048"/>
<path class="o" d="M245,1056 Q285,1076 325,1056"/>
<path class="t" d="M262,1030 L262,1068 M285,1034 L285,1072 M308,1030 L308,1068"/>
<ellipse class="w" cx="285" cy="1006" rx="40" ry="22"/>
<ellipse class="w" cx="285" cy="1008" rx="17" ry="9"/>
<path class="w" d="M488,752 L488,840 A56,20 0 0 0 600,840 L600,752 Z"/>
<path class="o" d="M488,774 A56,18 0 0 0 600,774"/>
<path class="o" d="M488,792 A56,18 0 0 0 600,792"/>
<path class="o" d="M488,810 A56,18 0 0 0 600,810"/>
<path class="o" d="M488,828 A56,18 0 0 0 600,828"/>
<rect x="533" y="844" width="20" height="22" fill="#fff"/>
<path class="o" d="M533,861 L533,844 L553,844 L553,861"/>
<ellipse class="w" cx="544" cy="752" rx="56" ry="30"/>
<ellipse class="w" cx="543" cy="750" rx="21" ry="11"/>
<path class="w" d="M488,1014 L488,1102 A56,20 0 0 0 600,1102 L600,1014 Z"/>
<path class="o" d="M488,1036 A56,18 0 0 0 600,1036"/>
<path class="o" d="M488,1054 A56,18 0 0 0 600,1054"/>
<path class="o" d="M488,1072 A56,18 0 0 0 600,1072"/>
<path class="o" d="M488,1090 A56,18 0 0 0 600,1090"/>
<rect x="533" y="1106" width="20" height="22" fill="#fff"/>
<path class="o" d="M533,1123 L533,1106 L553,1106 L553,1123"/>
<ellipse class="w" cx="544" cy="1014" rx="56" ry="30"/>
</g>
<!-- 50_float.svg -->
<g transform="translate(690,830) scale(0.167364)">
<path class="w" d="M40,160 L190,75 L415,35 Q432,34 447,45 L530,100 L530,262 L665,222 L810,298 L845,325 L845,440 L745,590 L690,650 L590,662 L420,662 L50,452 Q32,440 30,420 L30,190 Q28,170 40,160 Z"/>
<path class="o" d="M32,225 L150,278 L185,255 L165,215 Q163,198 180,190 L365,120 L425,155 L275,350"/>
<path class="o" d="M365,122 L392,205 M425,157 L392,205"/>
<path class="o" d="M150,278 L200,355 L300,425 L380,430 L470,480 L590,478 L730,400 L810,298"/>
<path class="o" d="M185,255 L235,330 L300,372"/>
<path class="o" d="M300,425 L665,222"/>
<path class="o" d="M345,395 Q470,390 520,325 M330,414 Q480,422 524,345"/>
<path class="o" d="M32,360 L415,575 L470,480 M415,575 L420,660"/>
<path class="o" d="M590,478 L590,662 M740,405 L742,580"/>
<path class="o" d="M835,445 L745,575 L610,648"/>
<path class="w" d="M458,262 L520,238 L540,248 L540,275 L495,295 L490,335 L478,335 L472,292 L458,285 Z"/>
<path class="t" d="M472,292 L520,268 L520,238 M520,268 L540,275"/>
<path class="w" d="M712,213 L712,245 L762,275 L762,213 Z"/>
<ellipse class="w" cx="737" cy="213" rx="26" ry="10"/>
<path class="w" d="M850,300 L880,288 L905,298 L905,336 L880,346 L855,338 Z"/>
<path class="t" d="M880,300 L880,346 M850,300 L880,312 L905,298"/>
<path class="o" d="M850,345 L850,420 L875,430"/>
<ellipse class="w" cx="903" cy="395" rx="30" ry="40" transform="rotate(20 903 395)"/>
<ellipse class="w" cx="908" cy="398" rx="13" ry="19" transform="rotate(20 908 398)"/>
<polyline class="l" points="100,595 290,595"/>
<polyline class="l" points="660,685 660,717"/>
</g>
<g transform="translate(717,770) scale(0.25)">
<path class="w" d="M530,517 L722,628 L714,644 L522,533 Z"/>
<ellipse class="w" cx="718" cy="636" rx="6" ry="10" transform="rotate(25 718 636)"/>
<polyline class="l" points="728,632 805,632"/>
<polyline class="l" points="333,703 333,742"/>
<path class="w" d="M290,828 L290,842 Q330,868 372,842 L372,828 Z"/>
<ellipse class="w" cx="331" cy="828" rx="41" ry="17"/>
<path class="w" d="M315,772 L315,826 Q332,834 350,826 L350,772 Q332,760 315,772 Z"/>
<path class="t" d="M315,785 Q332,796 350,785 M315,798 Q332,809 350,798 M315,811 Q332,822 350,811"/>
<polyline class="l" points="372,828 468,828"/>
<polyline class="l" points="492,985 635,985"/>
<polyline class="l" points="598,1172 765,1172"/>
<polyline class="l" points="565,1205 565,1245 445,1180 445,1345"/>
<path d="M518,1172 Q518,1140 556,1137 Q594,1140 598,1172 Q598,1196 558,1200 Q520,1196 518,1172 Z" fill="#222" stroke="#000" stroke-width="1.2" vector-effect="non-scaling-stroke"/>
<path d="M530,1160 L545,1150 M545,1168 L565,1152 M560,1175 L580,1160 M535,1180 L550,1170 M570,1186 L588,1174" stroke="#aaa" stroke-width="0.8" fill="none" vector-effect="non-scaling-stroke"/>
</g>
<g transform="translate(540,770) scale(0.25)">
<polyline class="l" points="138,132 245,132"/>
<polyline class="l" points="272,165 272,248"/>
<path class="w" d="M245,115 L245,150 Q272,172 300,150 L300,115 Z"/>
<ellipse class="w" cx="272" cy="115" rx="27" ry="13"/>
<polyline class="l" points="130,325 210,325"/>
<path class="w" d="M226,457 L226,487 A48,20 0 0 0 322,487 L322,457 Z"/>
<ellipse class="w" cx="274" cy="457" rx="48" ry="17"/>
<path class="o" d="M226,472 A48,19 0 0 0 322,472"/>
<path class="w" d="M238,375 L238,455 A36,12 0 0 0 310,455 L310,375 Z"/>
<path class="w" d="M210,274 L210,355 A63,28 0 0 0 336,355 L336,274 Z"/>
<path class="o" d="M210,298 A63,28 0 0 0 336,298"/>
<path class="o" d="M210,316 A63,28 0 0 0 336,316"/>
<path class="o" d="M210,334 A63,28 0 0 0 336,334"/>
<path class="t" d="M212,345 A62,28 0 0 0 334,345"/>
<ellipse class="w" cx="273" cy="274" rx="63" ry="32"/>
<path class="w" d="M241,263 L241,282 A32,14 0 0 0 305,282 L305,263 Z"/>
<ellipse class="w" cx="273" cy="263" rx="32" ry="15"/>
<ellipse class="w" cx="273" cy="263" rx="20" ry="9"/>
<ellipse class="k" cx="273" cy="264" rx="9" ry="4"/>
<polyline class="l" points="120,575 225,575"/>
<path class="o" d="M300,553 Q270,540 240,552 Q215,570 240,588 Q262,596 278,592 M298,590 Q325,575 312,558"/>
<path class="o" d="M278,565 L278,595 M298,565 L298,592"/>
<polyline class="l" points="270,610 270,700 530,850 530,920"/>
<polyline class="l" points="530,990 530,1085"/>
<polyline class="l" points="530,1128 530,1200"/>
<polyline class="l" points="188,870 188,930"/>
<polyline class="l" points="262,1040 330,1080"/>
<polyline class="l" points="392,1122 486,1175"/>
<polyline class="l" points="365,975 365,1055"/>
<ellipse class="w" cx="362" cy="1105" rx="30" ry="48" transform="rotate(22 362 1105)"/>
<ellipse class="w" cx="362" cy="1105" rx="14" ry="26" transform="rotate(22 362 1105)"/>
<polyline class="l" points="350,1092 378,1108"/>
<polyline class="l" points="180,1258 262,1258"/>
<polyline class="l" points="295,1380 295,1435 470,1340"/>
<path class="w" d="M262,1198 L262,1355 Q293,1378 325,1355 L325,1198 Z"/>
<ellipse class="w" cx="293" cy="1198" rx="31" ry="12"/>
<path class="w" d="M278,1178 L278,1195 Q292,1202 306,1195 L306,1178 Z"/>
<ellipse class="w" cx="292" cy="1177" rx="14" ry="6"/>
</g>
<g transform="translate(550,980) scale(0.104603)">
<path class="w" d="M102,330 Q100,240 175,195 L250,178 Q300,190 310,215 L310,470 Q290,520 240,510 L160,470 Q110,420 102,330 Z"/>
<path class="o" d="M135,245 L185,260 L185,300 L140,290 M108,290 L140,290 M185,300 Q170,370 190,450 M150,215 L185,260"/>
<ellipse class="w" cx="298" cy="368" rx="100" ry="150" transform="rotate(-12 298 368)"/>
<ellipse class="w" cx="325" cy="362" rx="100" ry="150" transform="rotate(-12 325 362)"/>
<ellipse class="w" cx="338" cy="380" rx="34" ry="68" transform="rotate(-151.928 338 380)"/>
<ellipse class="w" cx="368" cy="396" rx="34" ry="68" transform="rotate(-151.928 368 396)"/>
<ellipse class="w" cx="398" cy="412" rx="34" ry="68" transform="rotate(-151.928 398 412)"/>
<ellipse class="w" cx="428" cy="428" rx="34" ry="68" transform="rotate(-151.928 428 428)"/>
<ellipse class="w" cx="458" cy="444" rx="34" ry="68" transform="rotate(-151.928 458 444)"/>
<ellipse class="w" cx="488" cy="460" rx="34" ry="68" transform="rotate(-151.928 488 460)"/>
</g>
<!-- 60_bowl.svg -->
<g transform="translate(640,980) scale(0.25)">
<path class="w" d="M740,690 L740,800 Q745,828 775,826 Q800,822 810,790 Q818,755 848,745 L850,722 Q845,710 825,712 Q790,722 780,770 L778,700 Z"/>
<ellipse class="w" cx="841" cy="729" rx="8" ry="13" transform="rotate(15 841 729)"/>
<path class="w" d="M711,560 L711,689 Q762,718 818,689 L818,560 Z"/>
<path class="o" d="M738,560 L738,578 Q775,598 816,578"/>
<path class="o" d="M44,540 L44,670 M64,535 L64,680"/>
<path class="w" d="M74,520 L74,740 L97,750 L97,795 Q110,830 140,822 Q162,810 161,765 L151,745 L151,600 Z"/>
<path class="o" d="M117,560 L117,745 M97,750 Q125,765 151,745 M165,795 L215,795 L268,775"/>
<ellipse class="w" cx="133" cy="795" rx="12" ry="12"/>
<path class="w" d="M-33,655 Q-30,632 -10,628 L-6,600 L75,560 L75,725 L47,722 L-30,682 Z"/>
<path class="o" d="M-10,575 Q0,535 42,528 M-6,602 Q15,628 45,618 M-33,655 L-30,682"/>
<ellipse class="w" cx="5.5" cy="660" rx="15" ry="9"/>
<path class="f" d="M165,600 L172,745 L400,850 L495,852 L512,765 L655,690 L700,600 L700,560 L440,700 Z"/>
<path class="o" d="M172,600 L172,745 L400,850 L495,852 L512,765 L655,690 L692,610"/>
<path class="o" d="M385,722 L400,850 M495,735 L495,852 M180,690 L385,808 M185,620 L380,730 L385,722"/>
<path class="o" d="M512,720 L512,765 M520,720 L650,660 L652,690 M590,790 Q600,810 630,800 L632,775"/>
<path class="o" d="M395,740 Q440,770 490,742"/>
<path class="w" d="M8,442 L10,482 L395,706 Q442,734 492,710 L843,540 L875,523 L875,462 Z"/>
<path class="o" d="M843,505 L843,540"/>
<path class="w" d="M8,440 Q4,428 22,420 L388,214 Q420,198 455,214 L842,430 Q878,446 873,470 Q868,488 842,502 L492,680 Q442,706 395,676 L22,462 Q8,452 8,440 Z"/>
<path d="M78,452 L395,262 Q420,250 448,262 L700,405 Q735,425 720,455 Q700,480 720,520 L760,540 L480,640 Q440,660 400,640 L180,520 Q150,500 120,490 Q90,480 78,452 Z" fill="none" stroke="#000" stroke-width="4.6" stroke-linejoin="round" stroke-linecap="round" vector-effect="non-scaling-stroke"/><path d="M78,452 L395,262 Q420,250 448,262 L700,405 Q735,425 720,455 Q700,480 720,520 L760,540 L480,640 Q440,660 400,640 L180,520 Q150,500 120,490 Q90,480 78,452 Z" fill="none" stroke="#fff" stroke-width="1.6" stroke-linejoin="round" stroke-linecap="round" vector-effect="non-scaling-stroke"/>
<path class="w" d="M120,470 L400,300 Q420,290 445,300 L690,440 L655,560 L480,625 Q440,640 405,625 L200,520 Z"/>
<path class="o" d="M240,330 L240,515 M365,320 L365,425 M385,310 L385,420 M430,305 L430,440 M510,280 L510,440 M365,320 L420,300 L510,280"/>
<path class="o" d="M275,445 L355,425 L375,450 L305,478 L300,495 L275,505 Z M275,505 L275,540 L385,600 L385,585"/>
<path class="o" d="M405,490 L500,435 L580,470 L580,500 L480,545 L405,510 Z M480,530 L480,545 M405,490 L480,530 L580,470"/>
<path class="o" d="M395,602 Q415,560 465,572 Q500,588 492,622 M385,585 L440,560 L540,520 L600,545 L655,520"/>
<path class="o" d="M610,415 L650,400 L650,385 L700,402 L700,425 L655,440 L655,560 M610,415 L610,500 L655,520"/>
<path class="o" d="M200,545 L400,655 M215,575 L350,650"/>
<ellipse class="w" cx="45" cy="445" rx="30" ry="19"/>
<ellipse class="w" cx="45" cy="445" rx="17" ry="10"/>
<ellipse class="w" cx="420" cy="228" rx="15" ry="10"/>
<ellipse class="w" cx="325" cy="295" rx="15" ry="10"/>
<ellipse class="w" cx="825" cy="460" rx="26" ry="16"/>
<ellipse class="w" cx="825" cy="460" rx="14" ry="8"/>
<ellipse class="w" cx="446" cy="685" rx="26" ry="16"/>
<ellipse class="w" cx="446" cy="685" rx="14" ry="8"/>
<ellipse class="w" cx="127" cy="522" rx="24" ry="16"/>
<ellipse class="k" cx="127" cy="523" rx="12" ry="8"/>
<ellipse class="w" cx="755" cy="498" rx="47" ry="32"/>
<ellipse class="w" cx="755" cy="498" rx="34" ry="23"/>
<ellipse class="t" cx="757" cy="520" rx="18" ry="8"/>
<path class="o" d="M95,470 L100,500 M125,460 L125,498"/>
<polyline class="l" points="820,643 1076,643"/>
<polyline class="l" points="450,760 450,922"/>
<path d="M88,150 L305,22 Q335,0 365,12 L440,-8 Q465,-12 490,-8 L775,150 Q797,160 795,185 Q832,215 818,258 Q795,290 745,284 Q715,282 700,278 L515,392 Q475,412 440,395 Q405,380 372,398 L145,292 Q100,285 98,255 L90,215 Q80,195 98,180 Q82,165 88,150 Z" fill="none" stroke="#000" stroke-width="5" stroke-linejoin="round" stroke-linecap="round" vector-effect="non-scaling-stroke"/><path d="M88,150 L305,22 Q335,0 365,12 L440,-8 Q465,-12 490,-8 L775,150 Q797,160 795,185 Q832,215 818,258 Q795,290 745,284 Q715,282 700,278 L515,392 Q475,412 440,395 Q405,380 372,398 L145,292 Q100,285 98,255 L90,215 Q80,195 98,180 Q82,165 88,150 Z" fill="none" stroke="#fff" stroke-width="1.25" stroke-linejoin="round" stroke-linecap="round" vector-effect="non-scaling-stroke"/>
<ellipse class="w" cx="333" cy="40" rx="38" ry="24"/>
<ellipse class="w" cx="758" cy="240" rx="70" ry="46" transform="rotate(-8 758 240)"/>
<ellipse class="w" cx="127" cy="267" rx="38" ry="24"/>
<ellipse class="w" cx="333" cy="42" rx="19" ry="12"/>
<ellipse class="w" cx="758" cy="241" rx="41" ry="28"/>
<ellipse class="w" cx="127" cy="267" rx="19" ry="12"/>
<polyline class="l" points="800,147 940,147"/>
<polyline class="l" points="753,338 753,505"/>
<path class="w" d="M432,935 L432,1050 L470,1050 L470,935 Q450,920 432,935 Z"/>
<path class="o" d="M432,950 Q450,962 470,950 M432,966 Q450,978 470,966 M432,982 Q450,994 470,982 M432,998 Q450,1010 470,998 M432,1014 Q450,1026 470,1014 M432,1030 Q450,1042 470,1030"/>
<path class="w" d="M412,1060 L414,1086 A39,15 0 0 0 489,1086 L490,1060 Z"/>
<ellipse class="w" cx="451" cy="1060" rx="39" ry="15"/>
<path class="t" d="M440,1072 L440,1096 M462,1072 L462,1096"/>
<polyline class="l" points="472,1005 608,1005"/>
<ellipse class="w" cx="78" cy="878" rx="40" ry="22"/>
<ellipse class="w" cx="78" cy="878" rx="18" ry="9"/>
<ellipse class="w" cx="213" cy="860" rx="40" ry="22"/>
<ellipse class="w" cx="213" cy="860" rx="18" ry="9"/>
<polyline class="l" points="-77,865 36,865"/>
<path class="w" d="M4,1290 L6,1314 A121,62 0 0 0 246,1314 L246,1290 Z"/>
<path class="w" d="M245,1265 Q300,1232 330,1260 Q336,1292 300,1302 L248,1312"/>
<ellipse class="w" cx="292" cy="1272" rx="19" ry="12"/>
<ellipse class="t" cx="292" cy="1272" rx="9" ry="5"/>
<ellipse class="w" cx="125" cy="1290" rx="121" ry="64"/>
<ellipse class="w" cx="125" cy="1284" rx="96" ry="48"/>
<path class="w" d="M83,1275 L83,1288 Q125,1312 167,1288 L167,1275"/>
<ellipse class="w" cx="125" cy="1275" rx="42" ry="20"/>
<path class="w" d="M108,935 L108,1275 Q129,1286 150,1275 L150,935 Z"/>
<ellipse class="w" cx="129" cy="935" rx="21" ry="9"/>
<path class="t" d="M108,975 Q129,985 150,975"/>
<polyline class="l" points="-10,1100 106,1100"/>
<ellipse class="w" cx="130" cy="1470" rx="10" ry="30" transform="rotate(90 130 1470)"/>
<ellipse class="w" cx="130" cy="1457.6" rx="10" ry="30" transform="rotate(90 130 1457.6)"/>
<ellipse class="w" cx="130" cy="1445.2" rx="10" ry="30" transform="rotate(90 130 1445.2)"/>
<ellipse class="w" cx="130" cy="1432.8" rx="10" ry="30" transform="rotate(90 130 1432.8)"/>
<ellipse class="w" cx="130" cy="1420.4" rx="10" ry="30" transform="rotate(90 130 1420.4)"/>
<ellipse class="w" cx="130" cy="1408" rx="10" ry="30" transform="rotate(90 130 1408)"/>
<polyline class="l" points="-22,1435 100,1435"/>
</g>
<!-- 70_bottom.svg -->
<g transform="translate(560,1125) scale(0.25)">
<path class="w" d="M272,1100 L272,1140 Q285,1168 340,1172 Q390,1192 425,1192 Q440,1228 480,1228 Q522,1218 528,1182 Q565,1180 588,1148 L590,1100 Q605,1060 600,1010 L618,975 L612,950 L300,1000 Z"/>
<path class="w" d="M295,1025 Q300,990 340,965 Q400,930 460,935 Q510,935 530,945 Q550,920 585,925 Q622,935 614,965 Q610,985 590,1000 Q602,1040 577,1080 Q588,1110 572,1130 Q552,1150 522,1142 Q512,1172 482,1187 Q452,1192 435,1177 Q425,1162 420,1152 Q380,1152 345,1137 Q320,1147 295,1137 Q262,1122 274,1100 Q284,1084 305,1078 Q290,1055 295,1025 Z"/>
<ellipse class="w" cx="440" cy="1025" rx="106" ry="66"/>
<ellipse class="w" cx="446" cy="1042" rx="72" ry="43"/>
<ellipse class="o" cx="446" cy="1056" rx="52" ry="29"/>
<ellipse class="o" cx="446" cy="1068" rx="36" ry="18"/>
<ellipse class="o" cx="446" cy="1075" rx="22" ry="10"/>
<path class="t" d="M395,1075 Q446,1112 498,1075"/>
<ellipse class="w" cx="565" cy="948" rx="18" ry="11"/>
<ellipse class="w" cx="322" cy="1110" rx="18" ry="11"/>
<ellipse class="w" cx="475" cy="1170" rx="18" ry="11"/>
<ellipse class="w" cx="397" cy="1132" rx="10" ry="6"/>
<ellipse class="w" cx="538" cy="1115" rx="10" ry="6"/>
<path class="w" d="M291,1258 L291,1276 A32,14 0 0 0 355,1276 L355,1258 Z"/>
<ellipse class="w" cx="323" cy="1258" rx="32" ry="14"/>
<path class="w" d="M304,1210 L304,1258 Q323,1266 342,1258 L342,1210 Q323,1196 304,1210 Z"/>
<path class="o" d="M304,1220 Q323,1230 342,1220 M304,1233 Q323,1243 342,1233 M304,1246 Q323,1256 342,1246"/>
<path class="w" d="M393,1280 L393,1293 A57,28 0 0 0 507,1293 L507,1280 Z"/>
<ellipse class="w" cx="450" cy="1280" rx="57" ry="28"/>
<ellipse class="w" cx="450" cy="1277" rx="29" ry="14"/>
<path class="t" d="M424,1283 Q450,1300 477,1283"/>
<path class="w" d="M392,1430 L392,1476 A57,21 0 0 0 505,1476 L505,1430 Z"/>
<ellipse class="w" cx="448" cy="1428" rx="57" ry="20"/>
<rect x="438" y="1484" width="20" height="16" fill="#fff"/>
<path class="o" d="M438,1500 L438,1484 L458,1484 L458,1500"/>
<path class="w" d="M415,1358 L415,1425 A34,12 0 0 0 482,1425 L482,1358 Z"/>
<path class="o" d="M415,1376 A34,12 0 0 0 482,1376 M415,1393 A34,12 0 0 0 482,1393 M415,1410 A34,12 0 0 0 482,1410"/>
<ellipse class="w" cx="448" cy="1358" rx="34" ry="13"/>
<polyline class="l" points="180,1040 292,1040"/>
<polyline class="l" points="158,1262 290,1262"/>
<polyline class="l" points="505,1288 620,1288"/>
<polyline class="l" points="500,1432 615,1432"/>
</g>
<g transform="translate(364.25,1127.5) scale(0.25)">
<path class="w" d="M424,1190 L424,1320 Q448,1345 472,1320 L472,1190 Z"/>
<path class="w" d="M420,1300 Q448,1318 476,1300 L476,1322 Q448,1348 420,1322 Z"/>
<path class="w" d="M272,1100 L272,1140 Q285,1168 340,1172 Q390,1192 425,1192 Q440,1228 480,1228 Q522,1218 528,1182 Q565,1180 588,1148 L590,1100 Q605,1060 600,1010 L618,975 L612,950 L300,1000 Z"/>
<path class="w" d="M295,1025 Q300,990 340,965 Q400,930 460,935 Q510,935 530,945 Q550,920 585,925 Q622,935 614,965 Q610,985 590,1000 Q602,1040 577,1080 Q588,1110 572,1130 Q552,1150 522,1142 Q512,1172 482,1187 Q452,1192 435,1177 Q425,1162 420,1152 Q380,1152 345,1137 Q320,1147 295,1137 Q262,1122 274,1100 Q284,1084 305,1078 Q290,1055 295,1025 Z"/>
<ellipse class="w" cx="440" cy="1025" rx="106" ry="66"/>
<ellipse class="w" cx="446" cy="1042" rx="72" ry="43"/>
<ellipse class="o" cx="446" cy="1056" rx="52" ry="29"/>
<ellipse class="o" cx="446" cy="1068" rx="36" ry="18"/>
<ellipse class="o" cx="446" cy="1075" rx="22" ry="10"/>
<path class="t" d="M395,1075 Q446,1112 498,1075"/>
<ellipse class="w" cx="565" cy="948" rx="18" ry="11"/>
<ellipse class="w" cx="322" cy="1110" rx="18" ry="11"/>
<ellipse class="w" cx="475" cy="1170" rx="18" ry="11"/>
<ellipse class="w" cx="397" cy="1132" rx="10" ry="6"/>
<ellipse class="w" cx="538" cy="1115" rx="10" ry="6"/>
<path class="w" d="M291,1272 L291,1290 A32,14 0 0 0 355,1290 L355,1272 Z"/>
<ellipse class="w" cx="323" cy="1272" rx="32" ry="14"/>
<path class="w" d="M304,1224 L304,1272 Q323,1280 342,1272 L342,1224 Q323,1210 304,1224 Z"/>
<path class="o" d="M304,1234 Q323,1244 342,1234 M304,1247 Q323,1257 342,1247 M304,1260 Q323,1270 342,1260"/>
</g>
<rect x="354" y="1340.7" width="179" height="133.8" fill="none" stroke="#000" stroke-width="1.6"/>
<polyline class="l" points="404.5,1385.8 436,1385.8"/>
<polyline class="l" points="419.5,1447.5 436,1447.5"/>
<!-- 90_labels.svg -->
<text style="letter-spacing:0px" transform="translate(900.5,24) scale(0.78,1)">3</text>
<text style="letter-spacing:0px" transform="translate(931.5,80) scale(0.78,1)">2</text>
<text style="letter-spacing:0px" transform="translate(639,216) scale(0.78,1)">4</text>
<text style="letter-spacing:0px" transform="translate(919.5,200.5) scale(0.78,1)">5</text>
<text style="letter-spacing:0px" transform="translate(948.5,230) scale(0.78,1)">6</text>
<text style="letter-spacing:0px" transform="translate(950.5,266) scale(0.78,1)">7</text>
<text style="letter-spacing:0px" transform="translate(906,301) scale(0.78,1)">8</text>
<text style="letter-spacing:1.6px" transform="translate(439.6,179) scale(0.78,1)">39</text>
<text style="letter-spacing:1.6px" transform="translate(195.6,264) scale(0.78,1)">38</text>
<text style="letter-spacing:0px" transform="translate(603.5,511.7) scale(0.78,1)">1</text>
<text style="letter-spacing:1.6px" transform="translate(316.6,590.5) scale(0.78,1)">41</text>
<text style="letter-spacing:1.6px" transform="translate(176.6,661) scale(0.78,1)">40</text>
<text style="letter-spacing:1.6px" transform="translate(877.6,601) scale(0.78,1)">11</text>
<text style="letter-spacing:1.6px" transform="translate(751.9,616.3) scale(0.78,1)">10</text>
<text style="letter-spacing:0px" transform="translate(663,657.5) scale(0.78,1)">9</text>
<text style="letter-spacing:1.6px" transform="translate(878.6,684) scale(0.78,1)">12</text>
<text style="letter-spacing:1.6px" transform="translate(662.6,730) scale(0.78,1)">13</text>
<text style="letter-spacing:1.6px" transform="translate(852.2,734) scale(0.78,1)">14</text>
<text style="letter-spacing:1.6px" transform="translate(662.6,801) scale(0.78,1)">15</text>
<text style="letter-spacing:1.6px" transform="translate(852.2,801) scale(0.78,1)">16</text>
<text style="letter-spacing:1.6px" transform="translate(553.1,808.8) scale(0.78,1)">26</text>
<text style="letter-spacing:1.6px" transform="translate(551.1,861) scale(0.78,1)">27</text>
<text style="letter-spacing:1.6px" transform="translate(550.1,925) scale(0.78,1)">28</text>
<text style="letter-spacing:1.6px" transform="translate(691.6,937.5) scale(0.78,1)">17</text>
<text style="letter-spacing:1.6px" transform="translate(941.4,936.3) scale(0.78,1)">18</text>
<text style="letter-spacing:1.6px" transform="translate(853.9,982.5) scale(0.78,1)">19</text>
<text style="letter-spacing:1.6px" transform="translate(588.6,977.5) scale(0.78,1)">23</text>
<text style="letter-spacing:1.6px" transform="translate(631.2,1002.5) scale(0.78,1)">24</text>
<text style="letter-spacing:1.6px" transform="translate(897,1023) scale(0.78,1)">21</text>
<text style="letter-spacing:1.6px" transform="translate(937,1065) scale(0.78,1)">22</text>
<text style="letter-spacing:1.6px" transform="translate(562.6,1091) scale(0.78,1)">25</text>
<text style="letter-spacing:1.6px" transform="translate(929.6,1148) scale(0.78,1)">20</text>
<text style="letter-spacing:1.6px" transform="translate(603.1,1207.5) scale(0.78,1)">37</text>
<text style="letter-spacing:1.6px" transform="translate(818.1,1238.8) scale(0.78,1)">29</text>
<text style="letter-spacing:1.6px" transform="translate(615.4,1262.5) scale(0.78,1)">30</text>
<text style="letter-spacing:1.6px" transform="translate(618.1,1347.5) scale(0.78,1)">31</text>
<text style="letter-spacing:1.6px" transform="translate(588.6,1396) scale(0.78,1)">32</text>
<text style="letter-spacing:1.6px" transform="translate(382.9,1392) scale(0.78,1)">33</text>
<text style="letter-spacing:1.6px" transform="translate(400.1,1459.5) scale(0.78,1)">34</text>
<text style="letter-spacing:1.6px" transform="translate(579.6,1446) scale(0.78,1)">34</text>
<text style="letter-spacing:1.6px" transform="translate(738.9,1452.8) scale(0.78,1)">36</text>
<text style="letter-spacing:1.6px" transform="translate(737.9,1492) scale(0.78,1)">35</text>
<text style="font-size:29.5px" transform="translate(911,1490) scale(0.8,1)">33804</text>
</svg>
</body></html>
